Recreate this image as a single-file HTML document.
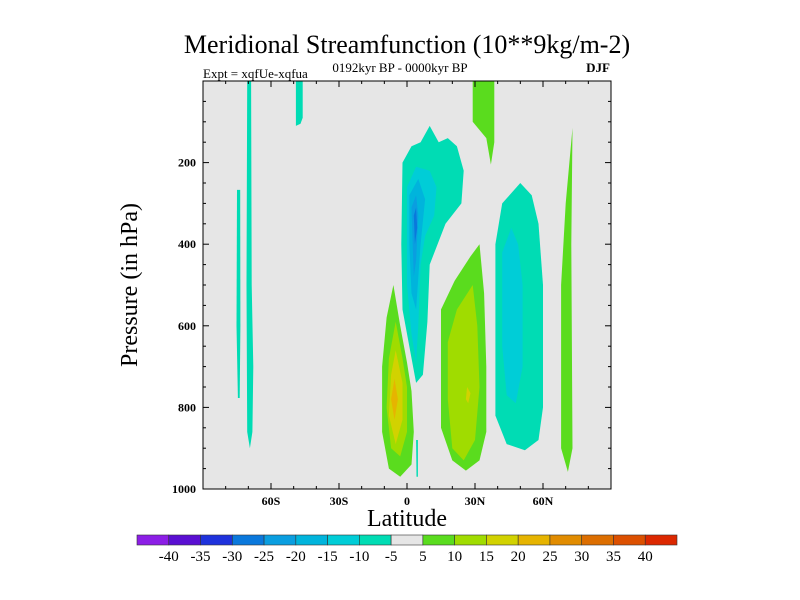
<!DOCTYPE html>
<html><head><meta charset="utf-8"><style>
body{margin:0;background:#fff;}
svg{display:block;font-family:"Liberation Serif",serif;}
</style></head><body>
<svg id="chart" width="800" height="600" viewBox="0 0 800 600" xmlns="http://www.w3.org/2000/svg">
<text x="407" y="53" font-size="26" text-anchor="middle">Meridional Streamfunction (10**9kg/m-2)</text>
<text x="400" y="72" font-size="13" text-anchor="middle">0192kyr BP - 0000kyr BP</text>
<text x="203" y="78" font-size="13">Expt = xqfUe-xqfua</text>
<text x="610" y="72" font-size="13" text-anchor="end" font-weight="bold">DJF</text>
<rect x="203" y="81" width="408" height="408" fill="#e6e6e6"/>
<g id="fields"></g>
<g id="axes"></g>
<rect x="203" y="81" width="408" height="408" fill="none" stroke="#000" stroke-width="1"/>
<text transform="translate(137,285) rotate(-90)" font-size="24" text-anchor="middle">Pressure (in hPa)</text>
<text x="407" y="526" font-size="24" text-anchor="middle">Latitude</text>
<g id="colorbar"></g>
</svg>
<script>
const levelColors=["#8c1ee6","#5a0fd2","#1e32dc","#0a78dc","#0a9ee0","#00b4dc","#00cdd7","#00dcb4","#e6e6e6","#5adc1e","#a0dc00","#d2d200","#e6b400","#e18c00","#dc6e00","#dc5000","#dc2800"];
const levelLabels=["-40","-35","-30","-25","-20","-15","-10","-5","5","10","15","20","25","30","35","40"];
const latTicks=[-60,-30,0,30,60];
const latTickLabels=["60S","30S","0","30N","60N"];
const presTicks=[200,400,600,800,1000];
// contour regions: level index into levelColors, outline as [lat, pressure] pairs
const regionLevels=[7,7,7,7,6,5,4,3,9,10,11,12,7,9,10,11,7,6,9,9];
const regionShapes=[
 [[-70.5,0],[-68.8,0],[-68.5,500],[-67.8,700],[-68.2,860],[-69.3,900],[-70.5,860],[-70.8,500]],
 [[-75,267],[-73.6,267],[-73.5,600],[-73.8,777],[-74.6,777],[-75.2,600]],
 [[-49,0],[-46,0],[-46,90],[-47,105],[-49,110]],
 [[-2,200],[2,160],[6,150],[10,110],[14,150],[18,140],[22,160],[25,220],[24,300],[17,350],[10,450],[9,590],[7,720],[4,740],[1,650],[-2,560],[-2.5,400]],
 [[0,260],[4,210],[10,220],[13,260],[12,330],[8,380],[6,450],[5,600],[4,690],[2,620],[0,500]],
 [[1,280],[5,240],[8,290],[6,400],[4,560],[2,520],[1,400]],
 [[2,310],[4,280],[5,330],[4,440],[3,480],[2.5,400]],
 [[3,330],[4,310],[4.5,360],[3.5,400]],
 [[-6,500],[-3,600],[0,690],[2,760],[3,860],[2,940],[-3,970],[-8,950],[-11,860],[-11,700],[-9,580]],
 [[-5,590],[-2,680],[0,750],[0,860],[-3,920],[-7,900],[-9,800],[-8,680]],
 [[-5,660],[-2,740],[-2,830],[-5,890],[-8,820],[-7,720]],
 [[-5.5,730],[-4,780],[-5.5,830],[-7,780]],
 [[4,880],[4.8,880],[4.8,970],[4.2,970]],
 [[32,400],[34,520],[35,700],[35,860],[32,930],[26,955],[20,930],[15,850],[15,560],[21,490],[28,430]],
 [[29,500],[31,600],[32,750],[30,880],[25,930],[20,900],[18,780],[18,640],[22,560]],
 [[26.5,750],[28,765],[27,790],[26,780]],
 [[50,250],[55,280],[58,350],[60,500],[60,800],[58,880],[52,905],[44,890],[39,820],[39,400],[42,300]],
 [[46,360],[49,400],[51,500],[51,700],[48,790],[44,770],[42,650],[42,420]],
 [[73,115],[72.5,400],[73,900],[71,958],[68,900],[68,500],[70,300]],
 [[29,0],[38.5,0],[38.5,150],[37,205],[35,140],[29,100]]
];
const NS="http://www.w3.org/2000/svg";
const X0=203,X1=611,Y0=81,Y1=489;
function xScale(lat){return X0+(lat+90)/180*(X1-X0);}
function yScale(p){return Y0+p/1000*(Y1-Y0);}
const fields=document.getElementById('fields');
regionShapes.forEach((shape,i)=>{
 const el=document.createElementNS(NS,'polygon');
 el.setAttribute('points',shape.map(pt=>xScale(pt[0]).toFixed(1)+','+yScale(pt[1]).toFixed(1)).join(' '));
 el.setAttribute('fill',levelColors[regionLevels[i]]);
 
 
 fields.appendChild(el);
});
const axes=document.getElementById('axes');
function line(x1,y1,x2,y2){const l=document.createElementNS(NS,'line');l.setAttribute('x1',x1);l.setAttribute('y1',y1);l.setAttribute('x2',x2);l.setAttribute('y2',y2);l.setAttribute('stroke','#000');l.setAttribute('stroke-width','1');
 
 
 axes.appendChild(l);}
for(let lat=-80;lat<=80;lat+=10){const x=xScale(lat);const len=(lat%30===0)?6:3;line(x,Y1,x,Y1-len);line(x,Y0,x,Y0+len);}
for(let p=50;p<1000;p+=50){const y=yScale(p);const len=(p%200===0)?6:3;line(X0,y,X0+len,y);line(X1,y,X1-len,y);}
latTicks.forEach((lat,i)=>{const t=document.createElementNS(NS,'text');t.setAttribute('x',xScale(lat));t.setAttribute('y',505);t.setAttribute('font-size','12');t.setAttribute('font-weight','bold');t.setAttribute('text-anchor','middle');t.textContent=latTickLabels[i];
 
 
 axes.appendChild(t);});
presTicks.forEach(p=>{const t=document.createElementNS(NS,'text');t.setAttribute('x',196);t.setAttribute('y',yScale(p)+4);t.setAttribute('font-size','12');t.setAttribute('font-weight','bold');t.setAttribute('text-anchor','end');t.textContent=p;
 
 
 axes.appendChild(t);});
const cb=document.getElementById('colorbar');
const CB0=137,CB1=677,n=levelColors.length,w=(CB1-CB0)/n;
levelColors.forEach((c,i)=>{const r=document.createElementNS(NS,'rect');r.setAttribute('x',CB0+i*w);r.setAttribute('y',535);r.setAttribute('width',w);r.setAttribute('height',10);r.setAttribute('fill',c);r.setAttribute('stroke','#333');r.setAttribute('stroke-width','0.6');
 
 
 cb.appendChild(r);});
levelLabels.forEach((s,i)=>{const t=document.createElementNS(NS,'text');t.setAttribute('x',CB0+(i+1)*w);t.setAttribute('y',561);t.setAttribute('font-size','15');t.setAttribute('text-anchor','middle');t.textContent=s;
 
 
 cb.appendChild(t);});
</script>
</body></html>
